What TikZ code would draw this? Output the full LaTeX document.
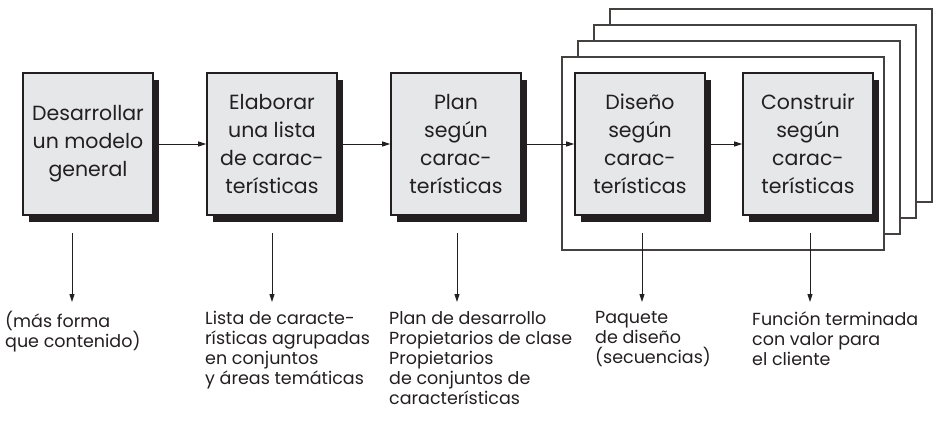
\documentclass[tikz,border=0pt]{standalone}
\usepackage{fontspec}
\setmainfont{Poppins}
\usepackage{xcolor}
\usepackage{tikz}
\usetikzlibrary{positioning,calc,shadows,arrows.meta}
\definecolor{inkdark}{HTML}{231F20}
\definecolor{boxgray}{HTML}{E6E7E8}
\tikzset{
  activity/.style={draw=inkdark, line width=1.6pt, fill=boxgray, minimum width=130pt, minimum height=142pt,
    inner sep=0pt, align=center, text=inkdark, font=\fontsize{20.5}{28}\selectfont,
    drop shadow={shadow xshift=6pt, shadow yshift=-7pt, fill=inkdark, opacity=1}},
  output/.style={anchor=north west, align=left, inner sep=0pt, text=inkdark, font=\fontsize{17.5}{20}\selectfont},
  stackframe/.style={draw=inkdark!85, line width=1.1pt, fill=white},
  flow/.style={->, line width=0.9pt, draw=inkdark},
  >={Triangle[length=8pt,width=5pt]}
}

\begin{document}
\begin{tikzpicture}[x=1pt,y=-1pt]
    \useasboundingbox (0,0) rectangle (943,425);
    % Iteration frames
    \foreach \k in {3,2,1,0} \draw[stackframe] (562+16*\k,57-16*\k) rectangle ++(322,193);

    % Activities
    \node[activity] (a1) at (88,144) {Desarrollar\\un modelo\\general};
    \node[activity] (a2) at (272,144) {Elaborar\\una lista\\de carac-\\terísticas};
    \node[activity] (a3) at (456,144) {Plan\\según\\carac-\\terísticas};
    \node[activity] (a4) at (640,144) {Diseño\\según\\carac-\\terísticas};
    \node[activity] (a5) at (808,144) {Construir\\según\\carac-\\terísticas};
    \foreach \i/\j in {a1/a2,a2/a3,a3/a4,a4/a5} \draw[flow] (\i) -- (\j);

    % Outputs
    \node[output] (o1) at (5,311) {(más forma\\que contenido)};
    \node[output] (o2) at (205,311) {Lista de caracte-\\rísticas agrupadas\\en conjuntos\\y áreas temáticas};
    \node[output] (o3) at (389,311) {Plan de desarrollo\\Propietarios de clase\\Propietarios\\de conjuntos de\\características};
    \node[output] (o4) at (595,311) {Paquete\\de diseño\\(secuencias)};
    \node[output] (o5) at (752,311) {Función terminada\\con valor para\\el cliente};
    \foreach \i/\dx in {1/-16,2/0,3/1,4/2,5/2}
        \draw[flow] ($(a\i.south)+(\dx,17)$) -- ($(a\i.south |- o\i.north)+(\dx,-9)$);
\end{tikzpicture}
\end{document}
